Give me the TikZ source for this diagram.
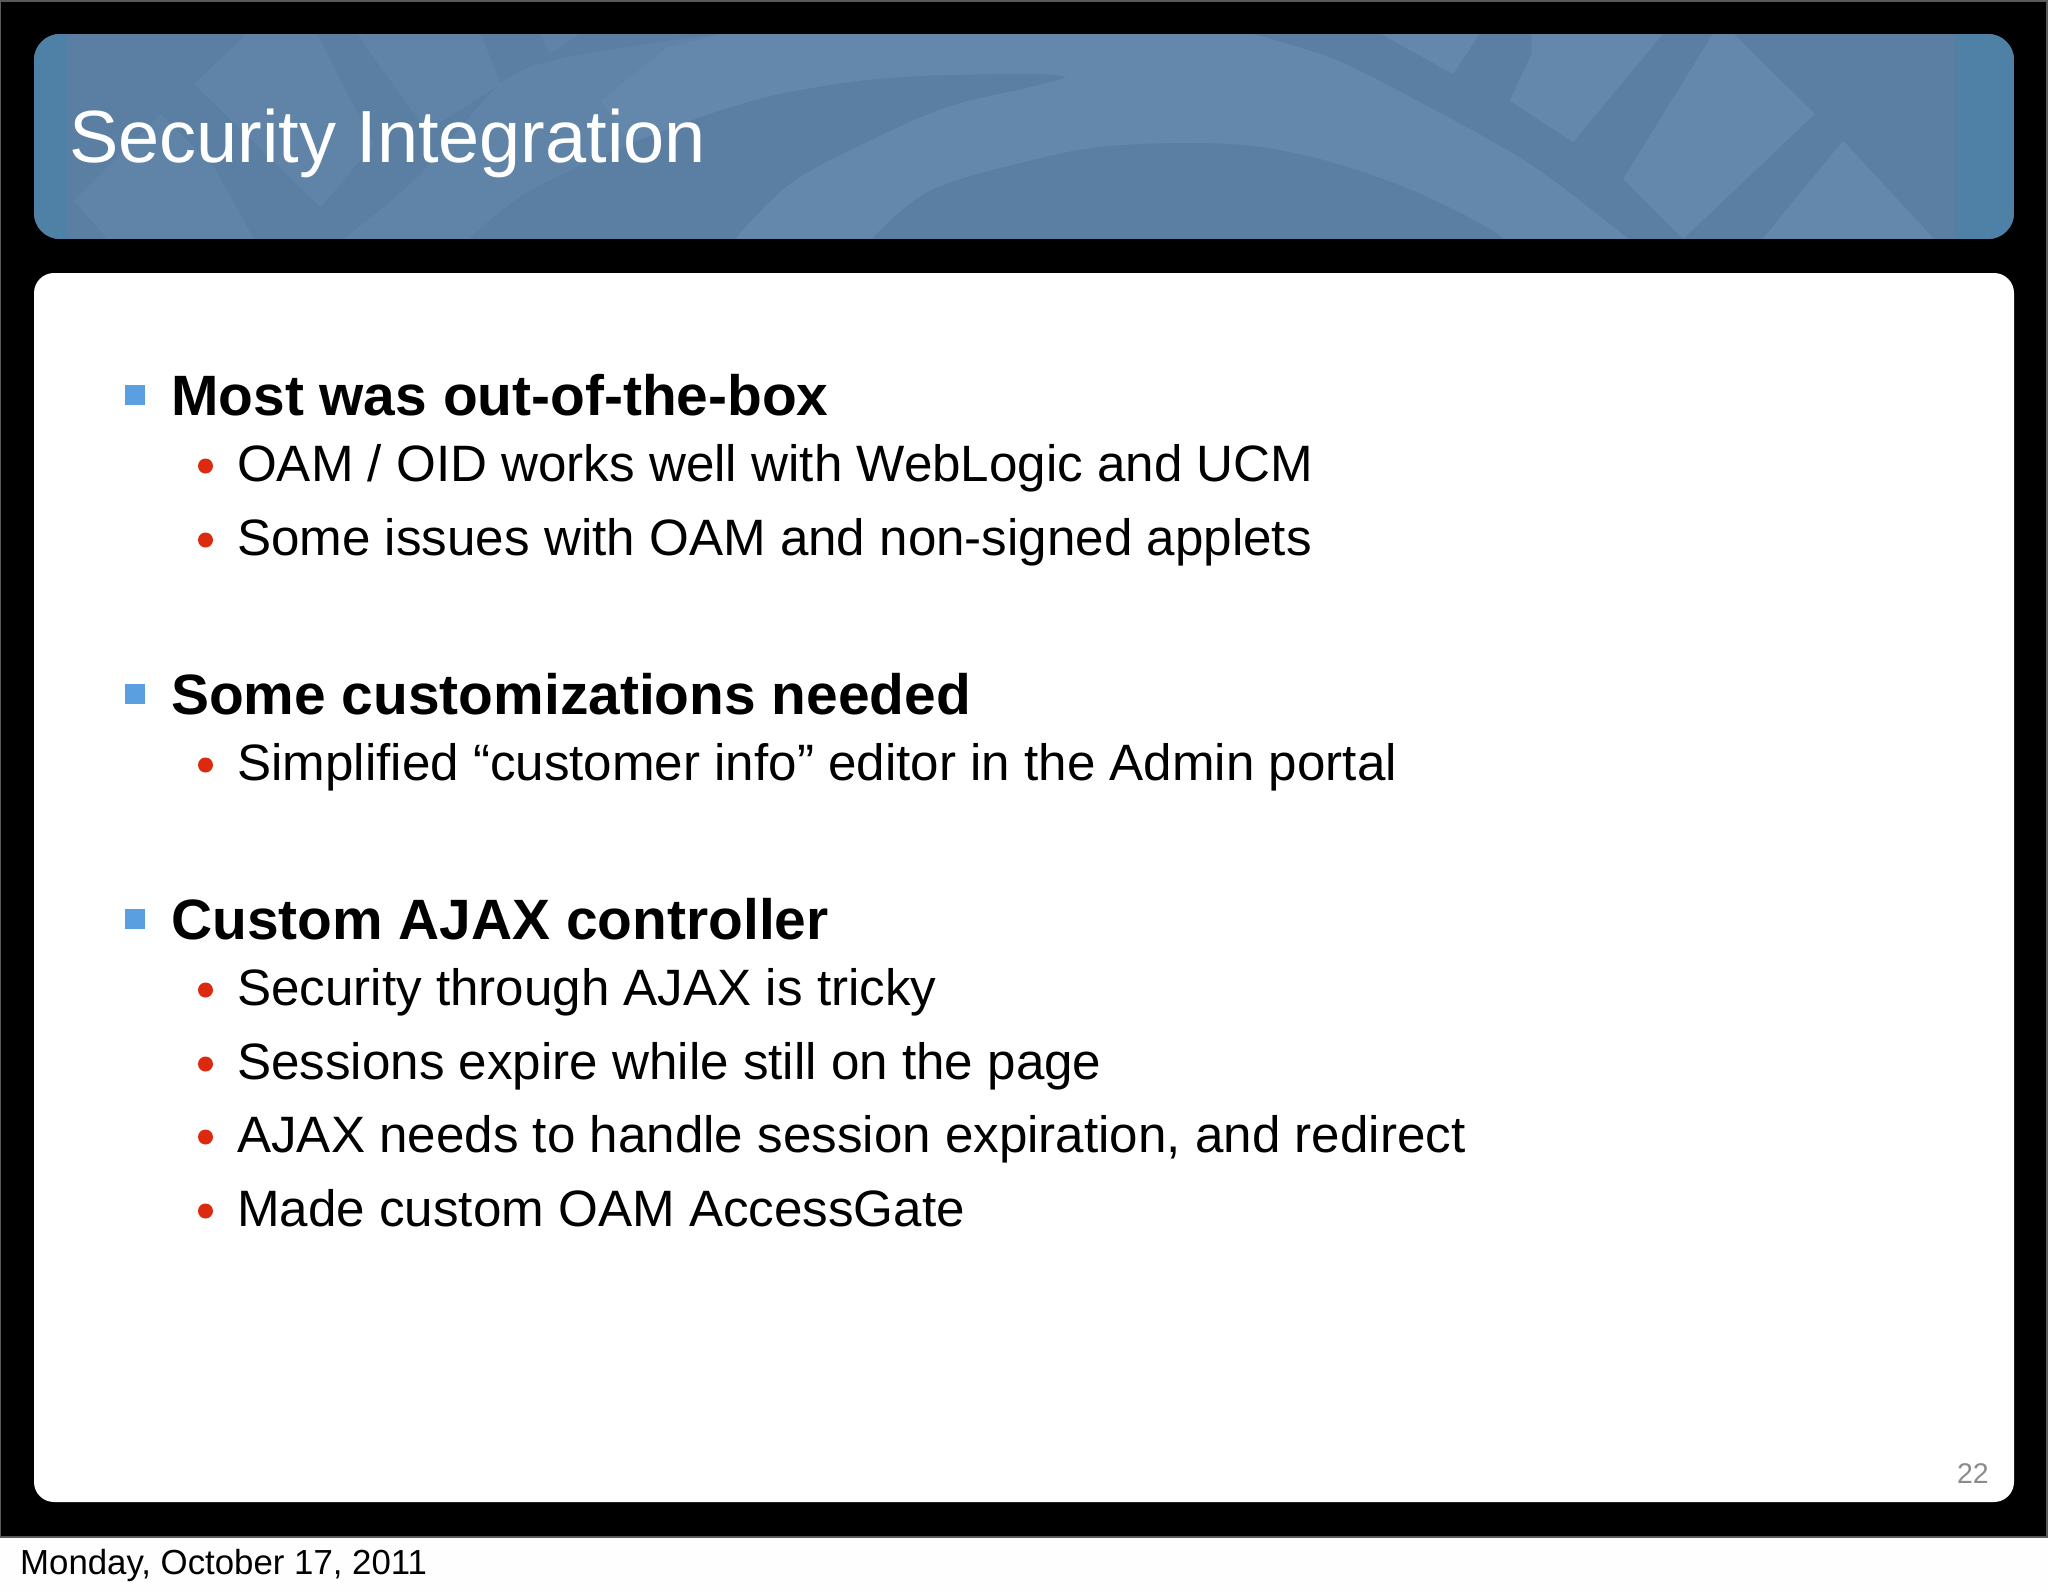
\documentclass[tikz,border=0pt]{standalone}
\usepackage{fontspec}
\setmainfont{Liberation Sans}
\definecolor{bannerlight}{HTML}{6388AC}
\definecolor{bannermid}{HTML}{6084A8}
\definecolor{bannerdark}{HTML}{5B7FA3}
\definecolor{banneredge}{HTML}{4F80A6}
\definecolor{bulletblue}{HTML}{5A9FE0}
\definecolor{bulletred}{HTML}{DC2A10}
\tikzset{
  x=1pt,y=-1pt,
  heading/.style={anchor=base west,inner sep=0pt,font=\fontsize{56.9}{60}\selectfont\bfseries,text=black},
  subitem/.style={anchor=base west,inner sep=0pt,font=\fontsize{51.15}{56}\selectfont,text=black},
  sqbullet/.style={fill=bulletblue,draw=none,minimum width=20pt,minimum height=20pt,inner sep=0pt,anchor=north west},
  dotbullet/.style={circle,fill=bulletred,draw=none,minimum size=15pt,inner sep=0pt},
  weave/.style={fill=bannerlight,draw=none},
  softweave/.style={fill=bannermid,draw=none}
}
\begin{document}
\begin{tikzpicture}
\useasboundingbox (0,0) rectangle (2048,1593);
\fill[white!99.5!black] (0,0) rectangle (2048,1593);
\draw[fill=black,draw=black!65,line width=2pt] (0,1) rectangle (2047,1537);
% banner
\begin{scope}
\clip[rounded corners=26pt] (34,34) rectangle (2014,239);
\fill[bannerdark] (34,34) rectangle (2014,239);
\begin{scope}[shift={(34,34)},xscale=0.3333,yscale=0.3333]
% soft left facets and sweep
\fill[softweave] (936,615) -- plot[smooth,tension=.5] coordinates {(936,610) (1150,430) (1400,150) (1598,70) (2068,-2)}
  -- (1900,40) -- (1700,200) -- (1788,330)
  -- plot[smooth,tension=.6] coordinates {(1788,330) (1488,470) (1308,610)}
  -- (1308,615) -- cycle;
\fill[softweave] (480,150) -- (640,-2) -- (850,-2) -- (925,150) -- (1020,330) -- (860,520) -- cycle;
\fill[softweave] (970,-2) -- (1340,-2) -- (1400,150) -- (1180,290) -- (1040,100) -- cycle;
\fill[softweave] (120,500) -- (380,240) -- (540,400) -- (660,615) -- (220,615) -- cycle;
% main light sweep
\fill[weave] (1900,40) -- (2068,-2)
  -- (3658,-2)
  -- plot[smooth,tension=.5] coordinates {(3658,0) (3900,75) (4150,200) (4488,390) (4778,610)}
  -- (4778,615) -- (4408,615)
  -- plot[smooth,tension=.6] coordinates {(4408,610) (4288,540) (4088,450) (3838,370) (3588,330) (3238,335) (2988,380) (2688,470) (2518,610)}
  -- (2518,615) -- (2108,615)
  -- plot[smooth,tension=.6] coordinates {(2108,610) (2268,450) (2488,330) (2738,220) (2988,160) (3098,130)}
  -- plot[smooth,tension=.6] coordinates {(3098,130) (2988,120) (2588,130) (2288,170) (2088,220) (1888,290) (1788,330)}
  -- (1700,200) -- cycle;
% straight facets
\fill[softweave] (1518,-2) -- (1640,-2) -- (1548,60) -- cycle;
\fill[weave] (4038,-2) -- (4338,-2) -- (4258,120) -- cycle;
\fill[weave] (4493,-2) -- (4888,-2) -- (4618,325) -- (4428,200) -- (4493,60) -- cycle;
\fill[weave] (5038,-2) -- (5098,-2) -- (5343,240) -- (4948,615) -- (4768,435) -- cycle;
\fill[weave] (5428,320) -- (5700,615) -- (5186,615) -- cycle;
\end{scope}
\fill[banneredge] (34,34) rectangle (67,239);
\fill[banneredge] (1955,34) rectangle (2014,239);
\end{scope}
% content panel
\fill[white,rounded corners=20pt] (34,273) rectangle (2014,1502);
% texts
\node[anchor=base west,inner sep=0pt,font=\fontsize{73.9}{80}\selectfont,text=white] (title) at (69,162) {Security Integration};

\node[sqbullet] (s1) at (125,385) {};
\node[heading] (h1) at (171,415) {Most was out-of-the-box};
\node[dotbullet] (d11) at (205.5,466) {};
\node[subitem] (t11) at (237,481) {OAM / OID works well with WebLogic and UCM};
\node[dotbullet] (d12) at (205.5,540) {};
\node[subitem] (t12) at (237,555) {Some issues with OAM and non-signed applets};

\node[sqbullet] (s2) at (125,684) {};
\node[heading] (h2) at (171,714) {Some customizations needed};
\node[dotbullet] (d21) at (205.5,765) {};
\node[subitem] (t21) at (237,780) {Simplified “customer info” editor in the Admin portal};

\node[sqbullet] (s3) at (125,909) {};
\node[heading] (h3) at (171,939) {Custom AJAX controller};
\node[dotbullet] (d31) at (205.5,990) {};
\node[subitem] (t31) at (237,1005) {Security through AJAX is tricky};
\node[dotbullet] (d32) at (205.5,1064) {};
\node[subitem] (t32) at (237,1079) {Sessions expire while still on the page};
\node[dotbullet] (d33) at (205.5,1137) {};
\node[subitem] (t33) at (237,1152) {AJAX needs to handle session expiration, and redirect};
\node[dotbullet] (d34) at (205.5,1211) {};
\node[subitem] (t34) at (237,1226) {Made custom OAM AccessGate};

\node[anchor=base east,inner sep=0pt,font=\fontsize{28.5}{32}\selectfont,text=black!45] (pageno) at (1989,1483) {22};
\node[anchor=base west,inner sep=0pt,font=\fontsize{34.8}{38}\selectfont,text=black] (date) at (20,1574) {Monday, October 17, 2011};
\end{tikzpicture}
\end{document}
